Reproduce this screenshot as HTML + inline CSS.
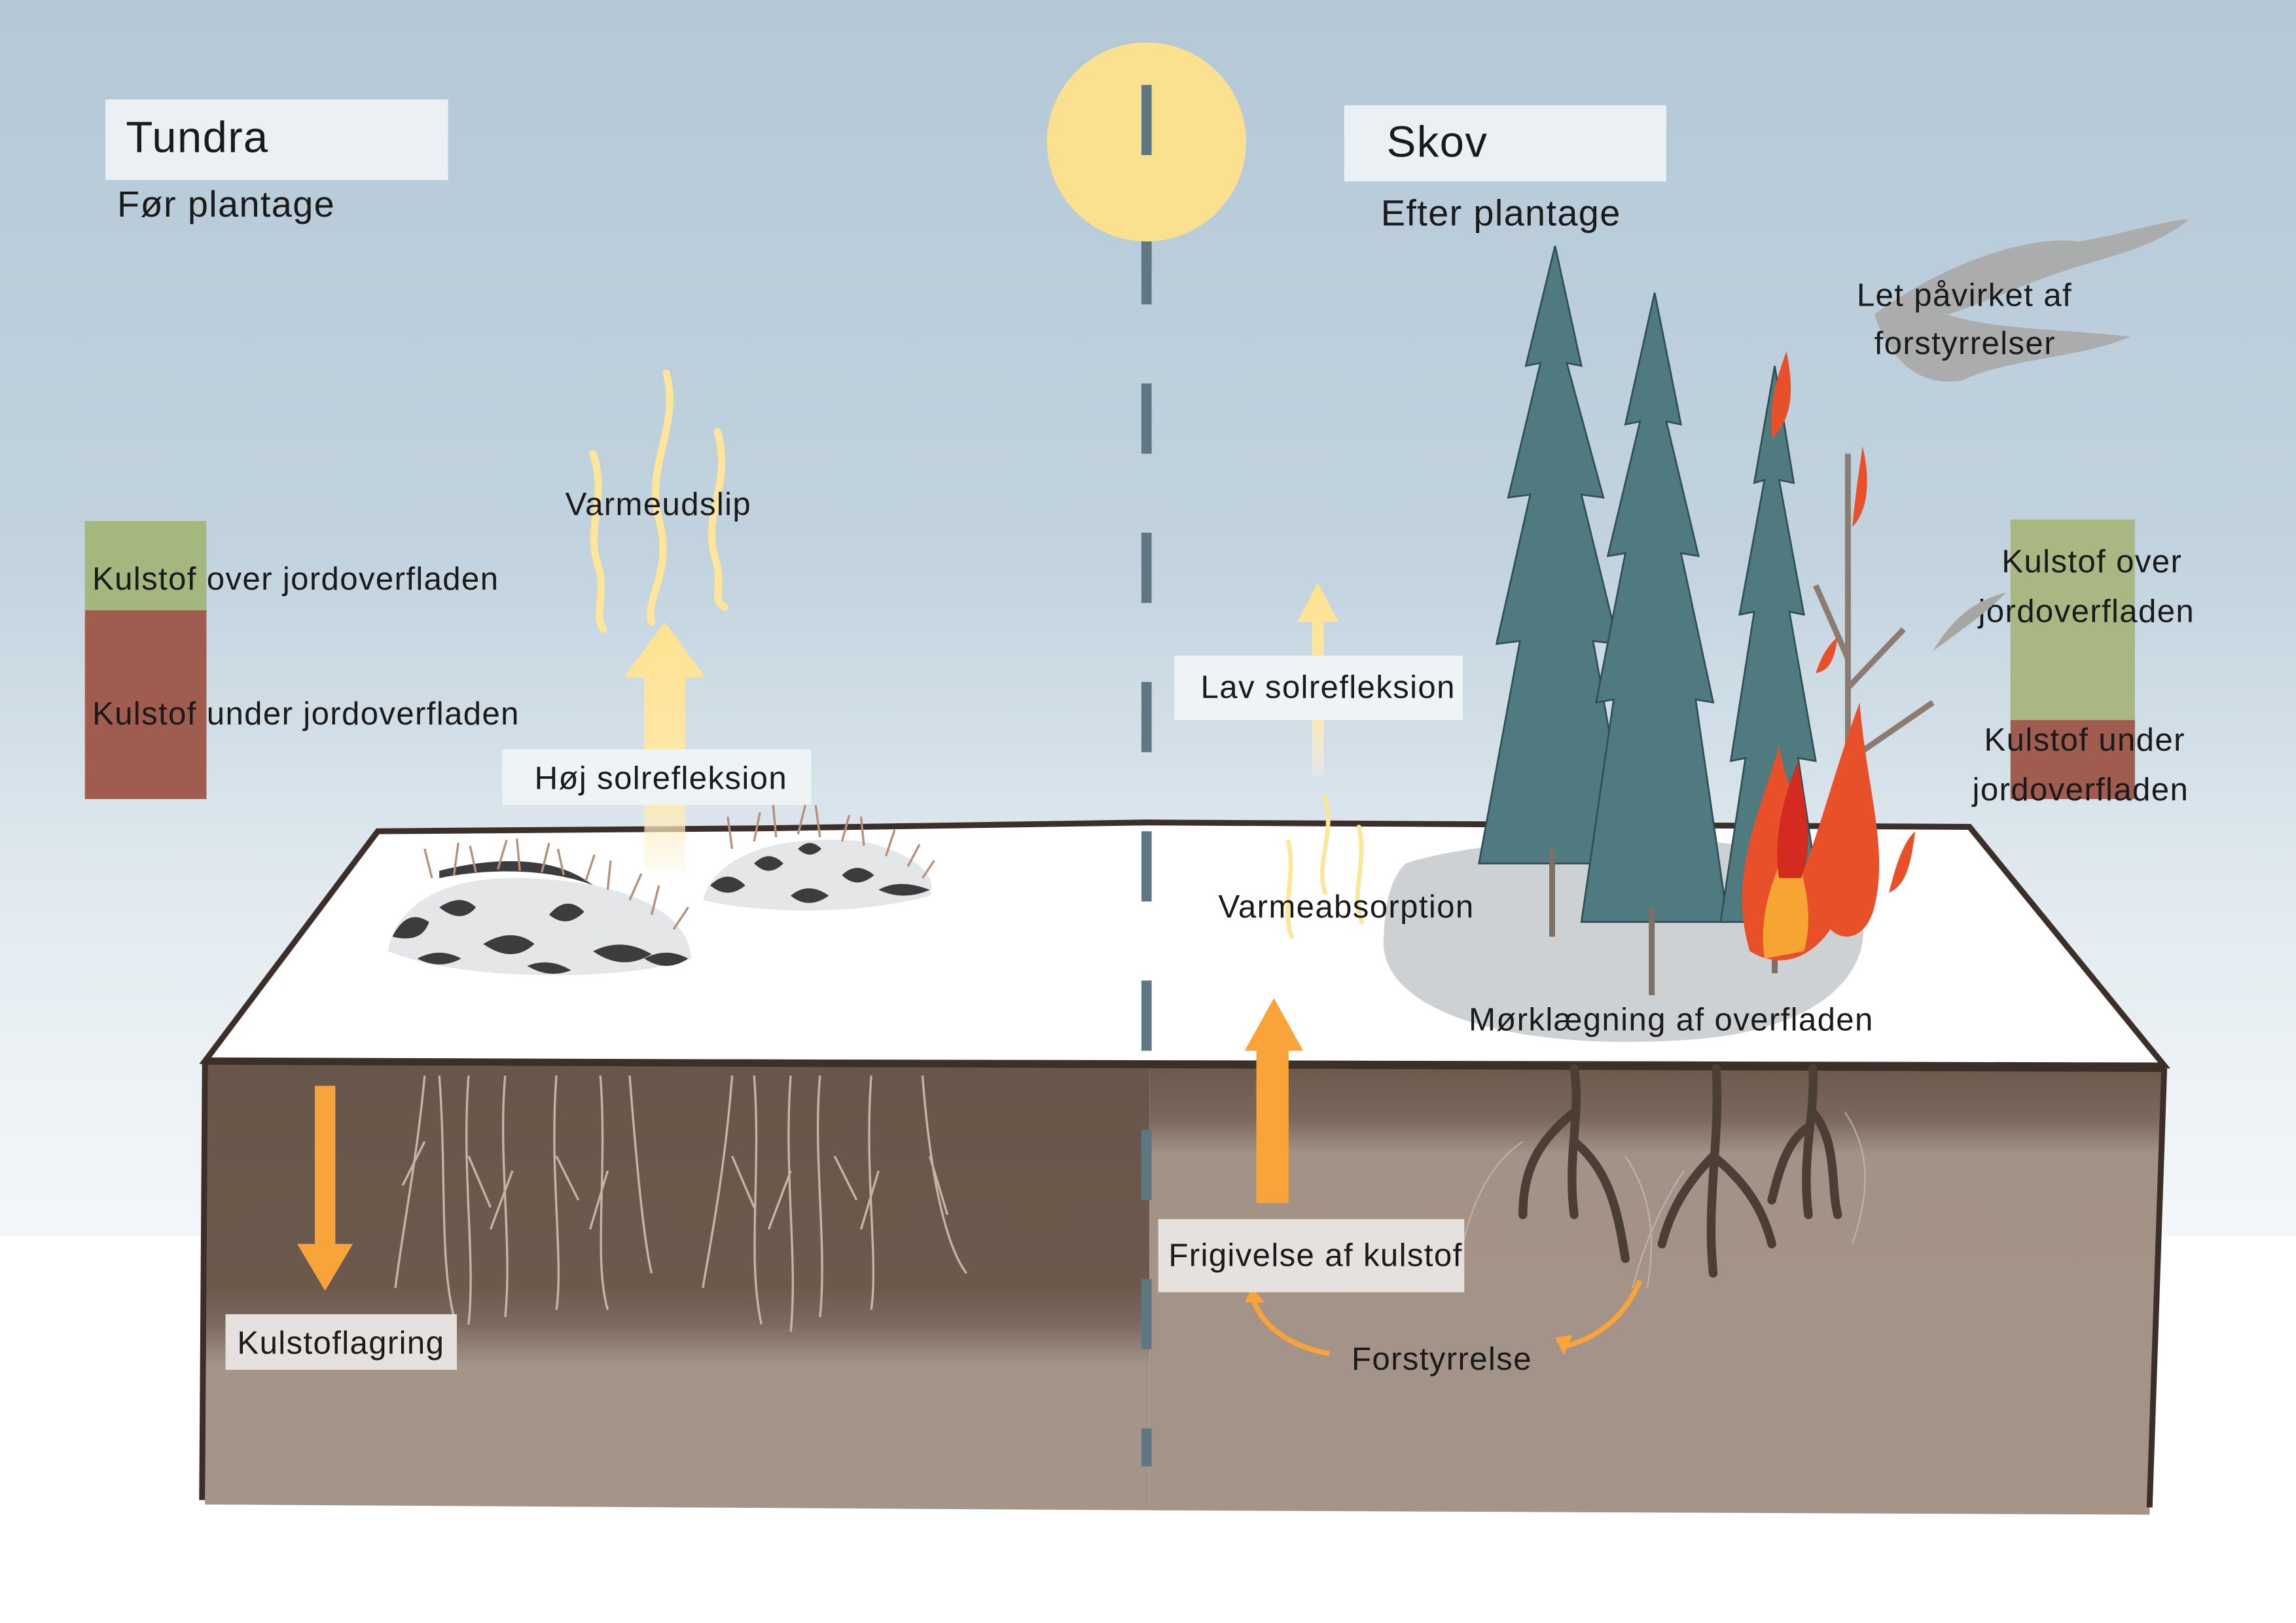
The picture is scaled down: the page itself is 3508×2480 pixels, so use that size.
<!DOCTYPE html>
<html><head><meta charset="utf-8"><style>
html,body{margin:0;padding:0;width:3508px;height:2480px;overflow:hidden;background:#fff}
svg{display:block}
text{font-family:"Liberation Sans","DejaVu Sans",sans-serif;fill:#1a1a1a;letter-spacing:0.6px}
</style></head><body>
<svg width="3508" height="2480" viewBox="0 0 1568 1109" preserveAspectRatio="none" xmlns="http://www.w3.org/2000/svg">
<defs>
<linearGradient id="sky" x1="0" y1="0" x2="0" y2="1">
<stop offset="0" stop-color="#b4c8d6"/><stop offset="0.45" stop-color="#c2d3df"/><stop offset="0.75" stop-color="#e4ecf1"/><stop offset="1" stop-color="#f4f7f9"/>
</linearGradient>
<linearGradient id="soilL" x1="0" y1="0" x2="0" y2="1">
<stop offset="0" stop-color="#68564a"/><stop offset="0.5" stop-color="#6c594c"/><stop offset="0.58" stop-color="#7a685c"/><stop offset="0.68" stop-color="#a59488"/><stop offset="1" stop-color="#a59488"/>
</linearGradient>
<linearGradient id="soilR" x1="0" y1="0" x2="0" y2="1">
<stop offset="0" stop-color="#6a584b"/><stop offset="0.12" stop-color="#7a685c"/><stop offset="0.2" stop-color="#a39287"/><stop offset="1" stop-color="#a59488"/>
</linearGradient>
<linearGradient id="yel" x1="0" y1="0" x2="0" y2="1">
<stop offset="0" stop-color="#fde28f"/><stop offset="0.7" stop-color="#fde9b0"/><stop offset="1" stop-color="#fdf3d8" stop-opacity="0.3"/>
</linearGradient>
</defs>
<rect x="0" y="0" width="1568" height="845" fill="url(#sky)"/>
<rect x="0" y="845" width="1568" height="264" fill="#fff"/>

<path d="M258,568 L520,566 L783,562 L1345,565 L1478,728 L140,725 Z" fill="#fff" stroke="#3c2f2a" stroke-width="4"/>
<path d="M140,725 L785,727 L785,1032 L140,1028 Z" fill="url(#soilL)"/>
<path d="M785,727 L1478,730 L1468,1035 L785,1032 Z" fill="url(#soilR)"/>
<path d="M140,725 L1478,730" stroke="#3c2f2a" stroke-width="5" fill="none"/>
<path d="M140,725 L138,1025 M1478,730 L1468,1030" stroke="#3c2f2a" stroke-width="4" fill="none"/>

<path d="M960,590 C1020,570 1200,560 1260,600 C1290,640 1270,700 1160,710 C1030,720 940,690 945,640 C946,615 950,600 960,590 Z" fill="#cdd1d3"/>

<line x1="783" y1="58" x2="783" y2="1002" stroke="#5e7782" stroke-width="7" stroke-dasharray="48,54"/>
<circle cx="783" cy="97" r="68" fill="#fbe18f"/>
<line x1="783" y1="58" x2="783" y2="106" stroke="#5e7782" stroke-width="7"/>

<rect x="72" y="68" width="234" height="55" fill="#eaf0f4"/>
<text x="86" y="104" font-size="30">Tundra</text>
<text x="80" y="148" font-size="25">Før plantage</text>
<rect x="918" y="72" width="220" height="52" fill="#eaf0f4"/>
<text x="947" y="107" font-size="30">Skov</text>
<text x="943" y="154" font-size="25">Efter plantage</text>

<rect x="58" y="356" width="83" height="61" fill="#a3b77e"/>
<rect x="58" y="417" width="83" height="129" fill="#a05c4f"/>
<text x="63" y="403" font-size="22">Kulstof over jordoverfladen</text>
<text x="63" y="495" font-size="22">Kulstof under jordoverfladen</text>
<rect x="1373" y="355" width="85" height="137" fill="#a9b883"/>
<rect x="1373" y="492" width="85" height="54" fill="#a05c4f"/>
<text x="1367" y="391" font-size="22">Kulstof over</text>
<text x="1351" y="425" font-size="22">jordoverfladen</text>
<text x="1355" y="513" font-size="22">Kulstof under</text>
<text x="1347" y="547" font-size="22">jordoverfladen</text>

<path d="M1280,215 C1320,185 1380,160 1420,165 C1450,160 1480,150 1495,150 C1470,170 1440,175 1410,185 C1380,195 1360,205 1330,215 C1360,225 1410,225 1455,230 C1420,245 1370,245 1340,260 C1310,265 1290,245 1280,215 Z" fill="#a8a6a3" opacity="0.85"/>
<path d="M1320,445 C1335,420 1350,410 1370,405 C1355,420 1340,430 1320,445Z" fill="#a8a6a3"/>
<text x="1268" y="209" font-size="22">Let påvirket af</text>
<text x="1280" y="242" font-size="22">forstyrrelser</text>

<g fill="none" stroke="#fde59a" stroke-width="5" stroke-linecap="round">
<path d="M455,255 C465,290 440,320 450,355 C460,390 440,410 445,425"/>
<path d="M405,310 C415,340 400,360 408,385 C415,405 405,420 412,430"/>
<path d="M490,295 C500,330 480,350 488,380 C495,400 485,410 495,415"/>
</g>
<text x="386" y="352" font-size="22">Varmeudslip</text>
<path d="M440,595 L440,463 L426,463 L454,425 L482,463 L468,463 L468,595 Z" fill="url(#yel)"/>
<rect x="343" y="512" width="211" height="38" fill="#eef3f6"/>
<text x="365" y="539" font-size="22">Høj solrefleksion</text>

<g>
<path d="M265,650 C270,620 300,600 350,600 C420,600 470,620 472,655 C430,670 320,672 265,650 Z" fill="#e4e6e7"/>
<path d="M480,615 C490,580 540,570 590,575 C630,585 640,600 635,612 C590,625 520,625 480,615 Z" fill="#e4e6e7"/>
<g fill="#3c3c3e">
<path d="M268,640 q10,-20 25,-10 q-5,15 -25,10z"/><path d="M300,620 q15,-10 25,0 q-10,12 -25,0z"/><path d="M330,645 q20,-12 35,0 q-15,14 -35,0z"/><path d="M375,625 q12,-14 24,-2 q-12,12 -24,2z"/><path d="M405,650 q20,-10 40,2 q-20,12 -40,-2z"/><path d="M440,655 q15,-8 30,0 q-15,10 -30,0z"/><path d="M285,655 q15,-8 30,0 q-15,8 -30,0z"/><path d="M360,660 q15,-6 30,3 q-15,6 -30,-3z"/>
<path d="M485,605 q12,-12 24,0 q-12,10 -24,0z"/><path d="M515,590 q10,-10 20,0 q-10,10 -20,0z"/><path d="M540,612 q12,-10 26,0 q-14,10 -26,0z"/><path d="M575,598 q10,-10 22,0 q-12,10 -22,0z"/><path d="M600,608 q14,-8 35,0 q-18,8 -35,0z"/><path d="M545,580 q8,-8 16,0 q-8,8 -16,0z"/>
<path d="M300,595 C340,585 380,585 405,605 C380,595 340,592 300,600z"/>
</g>
<g stroke="#b8907a" stroke-width="1.5" fill="none">
<path d="M295,600 l-5,-20 M310,598 l3,-22 M325,596 l-4,-18 M340,594 l6,-20 M355,595 l-2,-22 M370,596 l5,-20 M385,598 l-4,-18 M400,602 l6,-18 M415,608 l2,-20 M430,615 l8,-18 M445,625 l5,-20 M460,635 l10,-15"/>
<path d="M500,580 l-3,-22 M515,575 l4,-20 M530,572 l-2,-22 M545,570 l5,-20 M560,572 l-3,-22 M575,575 l5,-18 M590,578 l-2,-20 M605,585 l6,-18 M620,592 l8,-15 M630,600 l8,-12"/>
</g>
</g>

<g fill="none" stroke="#fde59a" stroke-width="3" stroke-linecap="round">
<path d="M880,575 C885,600 875,620 882,640"/>
<path d="M905,545 C912,570 898,590 905,610"/>
<path d="M928,565 C934,590 922,610 930,630"/>
</g>
<path d="M896,530 L896,425 L886,425 L900,398 L914,425 L904,425 L904,530 Z" fill="url(#yel)"/>
<rect x="802" y="448" width="197" height="44" fill="#eef3f6"/>
<text x="820" y="477" font-size="22">Lav solrefleksion</text>
<text x="832" y="627" font-size="22">Varmeabsorption</text>

<g fill="#4e7a80" stroke="#2f4f55" stroke-width="1.2">
<path d="M1062,168 L1080,250 L1070,248 L1095,340 L1080,338 L1105,440 L1088,438 L1115,590 L1010,590 L1038,438 L1022,440 L1045,338 L1030,340 L1052,248 L1042,250 Z"/>
<path d="M1130,200 L1148,290 L1138,288 L1160,380 L1148,378 L1170,480 L1158,478 L1180,630 L1080,630 L1102,478 L1090,480 L1110,378 L1098,380 L1120,288 L1110,290 Z"/>
<path d="M1212,250 L1225,330 L1215,328 L1232,420 L1222,418 L1240,520 L1228,518 L1245,630 L1175,630 L1192,518 L1182,520 L1198,418 L1188,420 L1205,328 L1198,330 Z"/>
</g>
<g stroke="#7d6f63" stroke-width="4">
<line x1="1060" y1="580" x2="1060" y2="640"/><line x1="1128" y1="620" x2="1128" y2="680"/><line x1="1212" y1="620" x2="1212" y2="665"/>
</g>
<path d="M1262,600 L1262,310 M1262,450 L1240,400 M1262,470 L1300,430 M1262,520 L1320,480" stroke="#8c7b70" stroke-width="4" fill="none"/>
<path d="M1195,650 C1180,600 1200,560 1215,510 C1220,540 1235,560 1230,600 C1245,560 1255,520 1270,480 C1275,540 1290,580 1280,620 C1275,640 1260,645 1250,635 C1240,650 1220,665 1195,650 Z" fill="#e8502a"/>
<path d="M1205,655 C1200,620 1215,590 1225,570 C1230,600 1240,620 1232,650 Z" fill="#f6a533"/>
<path d="M1215,600 C1210,570 1220,540 1228,520 C1232,550 1240,575 1230,600 Z" fill="#d42a20"/>
<path d="M1265,360 C1268,330 1270,320 1272,305 C1278,330 1275,350 1265,360 Z" fill="#e8502a"/>
<path d="M1210,300 C1208,270 1215,255 1220,240 C1225,265 1225,285 1210,300 Z" fill="#e8502a"/>
<path d="M1290,610 C1295,590 1300,575 1308,568 C1305,590 1302,605 1290,610 Z" fill="#e8502a"/>
<path d="M1240,460 C1245,445 1250,440 1255,435 C1253,450 1250,458 1240,460 Z" fill="#e8502a"/>
<text x="1003" y="704" font-size="22">Mørklægning af overfladen</text>

<g stroke="#cdbfb0" stroke-width="1.5" fill="none" opacity="0.9">
<path d="M290,735 C285,790 275,840 270,880 M300,735 C305,800 300,860 310,900 M320,735 C315,800 325,860 320,905 M345,735 C340,790 350,850 345,900 M380,735 C375,800 385,860 380,895 M410,735 C415,800 405,860 415,895 M430,735 C435,800 440,850 445,870 M290,780 l-15,30 M320,790 l15,35 M350,800 l-15,40 M380,790 l15,30 M415,800 l-12,40"/>
<path d="M500,735 C495,800 485,850 480,880 M515,735 C520,800 510,860 520,905 M540,735 C535,800 545,860 540,910 M560,735 C555,790 565,850 560,900 M595,735 C590,800 600,860 595,895 M630,735 C635,800 645,850 660,870 M500,790 l15,35 M540,800 l-15,40 M570,790 l15,30 M600,800 l-12,40 M635,790 l12,40"/>
</g>
<g stroke="#4a3e35" stroke-width="6" fill="none" stroke-linecap="round">
<path d="M1075,730 C1080,760 1070,790 1075,830 M1075,760 C1050,780 1040,800 1040,830 M1075,780 C1100,800 1105,830 1110,860"/>
<path d="M1172,730 C1175,780 1165,820 1170,870 M1170,790 C1150,810 1140,830 1135,850 M1170,790 C1195,810 1205,830 1210,850"/>
<path d="M1238,730 C1240,760 1230,790 1235,830 M1238,760 C1255,780 1250,810 1255,830 M1235,770 C1220,780 1215,800 1210,820"/>
</g>
<g stroke="#c9c0b6" stroke-width="1" fill="none" opacity="0.7">
<path d="M1040,780 C1010,800 1000,840 995,870 M1110,790 C1130,820 1130,850 1125,880 M1150,800 C1130,830 1120,860 1115,880 M1260,760 C1280,790 1275,820 1265,850"/>
</g>

<path d="M215,742 L215,850 L203,850 L222,882 L241,850 L229,850 L229,742 Z" fill="#f9a43a"/>
<path d="M858,822 L858,718 L850,718 L870,682 L890,718 L880,718 L880,822 Z" fill="#f9a43a"/>
<path d="M908,925 C880,920 860,905 855,885" stroke="#f9a43a" stroke-width="3.5" fill="none"/>
<path d="M850,890 L855,880 L864,890 Z" fill="#f9a43a"/>
<path d="M1120,875 C1110,900 1090,915 1068,920" stroke="#f9a43a" stroke-width="3.5" fill="none"/>
<path d="M1062,914 L1068,926 L1074,912 Z" fill="#f9a43a"/>

<rect x="154" y="898" width="158" height="38" fill="#e6e1de"/>
<text x="162" y="925" font-size="22">Kulstoflagring</text>
<rect x="791" y="833" width="209" height="50" fill="#e6e1de"/>
<text x="798" y="865" font-size="22">Frigivelse af kulstof</text>
<text x="923" y="936" font-size="22">Forstyrrelse</text>
</svg>
</body></html>
